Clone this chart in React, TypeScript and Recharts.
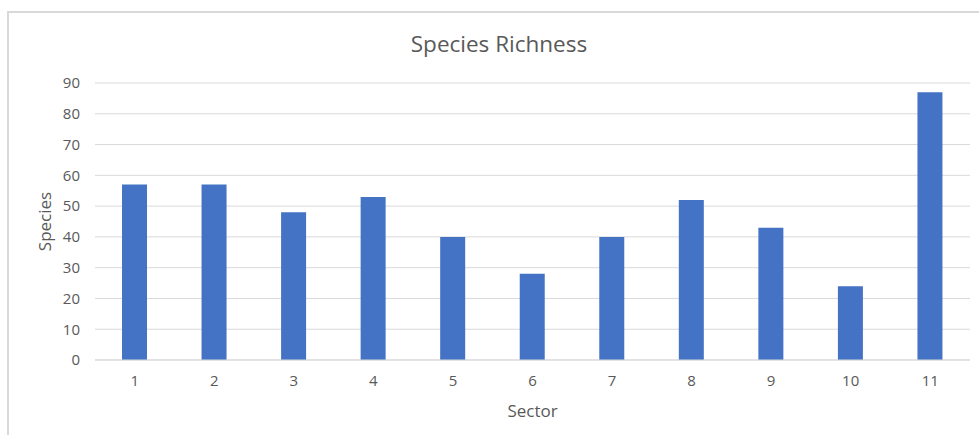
import { BarChart, Bar, XAxis, YAxis, CartesianGrid, Label } from "recharts";

const sectors = ["1", "2", "3", "4", "5", "6", "7", "8", "9", "10", "11"];
const species = [57, 57, 48, 53, 40, 28, 40, 52, 43, 24, 87];
const yTicks = [0, 10, 20, 30, 40, 50, 60, 70, 80, 90];

const data = sectors.map((s, i) => ({ sector: s, species: species[i] }));

const FONT = "'Open Sans', 'Noto Sans', sans-serif";
const TEXT = "#595959";
const GRID = "#d9d9d9";

export default function App() {
  return (
    <div style={{ position: "absolute", left: 0, top: 0, width: 979, height: 435, overflow: "hidden", background: "#fff", fontFamily: FONT }}>
      <div
        style={{
          position: "absolute",
          left: 7,
          top: 11,
          width: 1200,
          height: 600,
          borderLeft: `2px solid ${GRID}`,
          borderTop: `2px solid ${GRID}`,
        }}
      />
      <div
        style={{
          position: "absolute",
          left: 0,
          width: 998,
          top: 28,
          textAlign: "center",
          fontSize: 22.5,
          color: TEXT,
          lineHeight: "32px",
        }}
      >
        Species Richness
      </div>
      <BarChart
        width={979}
        height={435}
        data={data}
        margin={{ top: 83, right: 9, left: 0, bottom: 0 }}
        style={{ position: "absolute", left: 0, top: 0 }}
      >
        <CartesianGrid stroke={GRID} vertical={false} />
        <XAxis
          dataKey="sector"
          height={75}
          axisLine={{ stroke: GRID }}
          tickLine={false}
          tickMargin={9}
          tick={{ fill: TEXT, fontSize: 15, fontFamily: FONT }}
        >
          <Label value="Sector" position="insideBottom" offset={18} fill={TEXT} fontSize={17} fontFamily={FONT} />
        </XAxis>
        <YAxis
          width={95}
          domain={[0, 90]}
          ticks={yTicks}
          axisLine={false}
          tickLine={false}
          tickMargin={9}
          tick={{ fill: TEXT, fontSize: 15, fontFamily: FONT }}
        >
          <Label value="Species" angle={-90} position="center" dx={-3} fill={TEXT} fontSize={17} fontFamily={FONT} />
        </YAxis>
        <Bar dataKey="species" fill="#4472c4" barSize={25} isAnimationActive={false} />
      </BarChart>
    </div>
  );
}
